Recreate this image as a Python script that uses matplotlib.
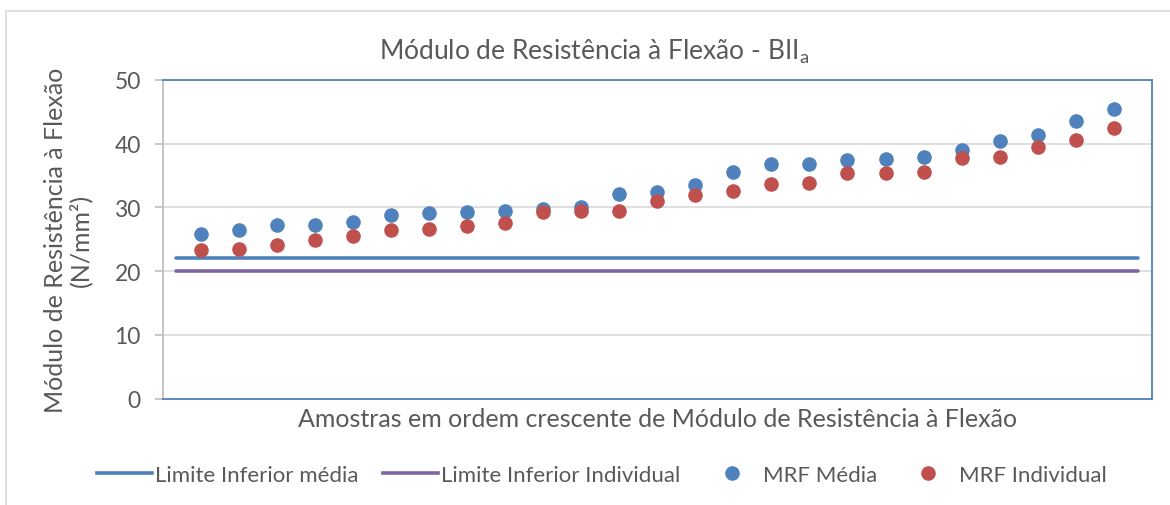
import matplotlib
matplotlib.use("Agg")
import matplotlib.pyplot as plt
from matplotlib.patches import Rectangle
from matplotlib.lines import Line2D

plt.rcParams['font.family'] = ['Lato', 'DejaVu Sans']

samples = list(range(1, 26))
mrf_media = [25.9, 26.4, 27.2, 27.2, 27.7, 28.8, 29.2, 29.3, 29.5, 29.8, 30.1, 32.1,
             32.4, 33.5, 35.5, 36.8, 36.8, 37.4, 37.6, 37.9, 39.0, 40.4, 41.3, 43.5, 45.4]
mrf_individual = [23.3, 23.4, 24.1, 24.9, 25.5, 26.5, 26.6, 27.1, 27.6, 29.3, 29.4, 29.4,
                  31.0, 32.0, 32.6, 33.7, 33.9, 35.4, 35.4, 35.5, 37.7, 37.9, 39.5, 40.6, 42.4]
limit_x = [0.35, 25.65]
limite_media = [22, 22]
limite_individual = [20, 20]
yticks = [0, 10, 20, 30, 40, 50]

BLUE = '#4F81BD'
RED = '#C0504D'
PURPLE = '#8064A2'
TXT = '#595959'

fig = plt.figure(figsize=(11.7, 5.06), dpi=100)
fig.patches.append(Rectangle((6/1170, -0.1), 1.2, 1 - 12/506 + 0.1, transform=fig.transFigure,
                             fill=False, edgecolor='#D9D9D9', linewidth=1.2))
ax = fig.add_axes([163/1170, 1 - 399.6/506, (1151.7 - 163)/1170, (399.6 - 81)/506])

ax.plot(limit_x, limite_media, color=BLUE, lw=2.6, solid_capstyle='round', zorder=3)
ax.plot(limit_x, limite_individual, color=PURPLE, lw=2.6, solid_capstyle='round', zorder=3)
ax.plot(samples, mrf_media, 'o', color=BLUE, ms=10.5, mec='none', zorder=4)
ax.plot(samples, mrf_individual, 'o', color=RED, ms=10.5, mec='none', zorder=5)

ax.set_xlim(0, 26)
ax.set_ylim(0, 50)
ax.set_yticks(yticks)
ax.set_xticks([])
ax.grid(axis='y', color='#D9D9D9', lw=1.2, zorder=0)
ax.set_axisbelow(True)
for s in ['top', 'right', 'bottom']:
    ax.spines[s].set_color(BLUE)
    ax.spines[s].set_linewidth(1.3)
ax.spines['left'].set_color('#BFBFBF')
ax.spines['left'].set_linewidth(1.3)
ax.tick_params(axis='y', colors='#BFBFBF', labelcolor=TXT, labelsize=16.5, length=6, width=1.2, pad=10)

ax.set_xlabel('Amostras em ordem crescente de Módulo de Resistência à Flexão',
              fontsize=18, color=TXT, labelpad=6)
fig.text(68/1170, 1 - 240/506, 'Módulo de Resistência à Flexão\n(N/mm²)', rotation=90,
         ha='center', va='center', fontsize=18, color=TXT, linespacing=1.05)
fig.text(0.508, 1 - 52/506, r'Módulo de Resistência à Flexão - BII$_\mathregular{a}$',
         ha='center', va='center', fontsize=19, color=TXT)

handles = [Line2D([], [], color=BLUE, lw=2.6),
           Line2D([], [], color=PURPLE, lw=2.6),
           Line2D([], [], color=BLUE, marker='o', ls='none', ms=10.5, mec='none'),
           Line2D([], [], color=RED, marker='o', ls='none', ms=10.5, mec='none')]
labels = ['Limite Inferior média', 'Limite Inferior Individual', 'MRF Média', 'MRF Individual']
fig.legend(handles, labels, loc='center', bbox_to_anchor=(0.5145, 1 - 476/506), ncol=4,
           frameon=False, fontsize=16, labelcolor=TXT, handlelength=2.48, handletextpad=0.14,
           columnspacing=1.08)

fig.savefig('out.png', dpi=100, facecolor='white')
